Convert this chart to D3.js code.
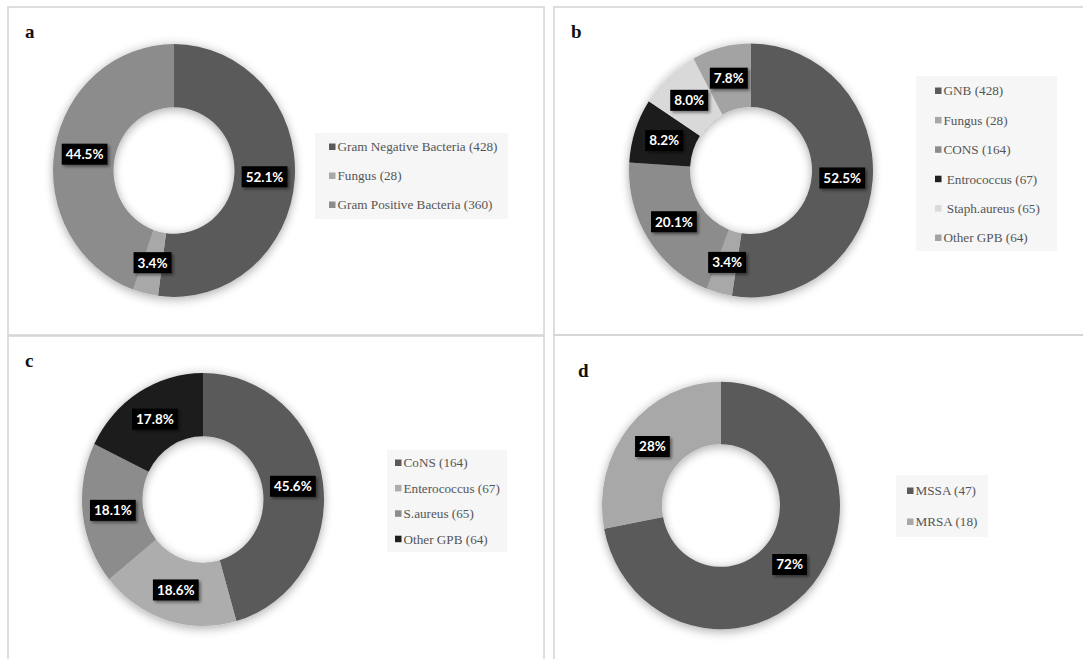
<!DOCTYPE html>
<html>
<head>
<meta charset="utf-8">
<script src="https://cdn.jsdelivr.net/npm/d3@7"></script>
<style>
body { margin: 0; background: #fff; }
</style>
</head>
<body>
<svg id="chart"></svg>
<script>
// panel a
var aNames = ["Gram Negative Bacteria", "Fungus", "Gram Positive Bacteria"],
    aCounts = [428, 28, 360],
    aPct = [52.1, 3.4, 44.5],
    aColors = ["#5a5a5a", "#a8a8a8", "#8c8c8c"];

// panel b
var bNames = ["GNB", "Fungus", "CONS", " Entrococcus", " Staph.aureus", "Other GPB"],
    bCounts = [428, 28, 164, 67, 65, 64],
    bPct = [52.5, 3.4, 20.1, 8.2, 8.0, 7.8],
    bColors = ["#5a5a5a", "#a8a8a8", "#8c8c8c", "#1f1f1f", "#d9d9d9", "#a3a3a3"];

// panel c
var cNames = ["CoNS", "Enterococcus", "S.aureus", "Other GPB"],
    cCounts = [164, 67, 65, 64],
    cPct = [45.6, 18.6, 18.1, 17.8],
    cColors = ["#5a5a5a", "#adadad", "#8c8c8c", "#1f1f1f"];

// panel d
var dNames = ["MSSA", "MRSA"],
    dCounts = [47, 18],
    dPct = [72, 28],
    dColors = ["#5a5a5a", "#a8a8a8"];

var width = 1083, height = 659;
var serif = "'Liberation Serif', 'Times New Roman', Times, serif";

var svg = d3.select("#chart")
    .attr("width", width)
    .attr("height", height);

var defs = svg.append("defs");

var f1 = defs.append("filter").attr("id", "ringShadow")
    .attr("x", "-20%").attr("y", "-20%").attr("width", "140%").attr("height", "140%");
f1.append("feGaussianBlur").attr("in", "SourceAlpha").attr("stdDeviation", 5).attr("result", "b");
f1.append("feOffset").attr("in", "b").attr("dy", 2).attr("result", "o");
f1.append("feComponentTransfer").attr("in", "o").attr("result", "s")
  .append("feFuncA").attr("type", "linear").attr("slope", 0.35);
var m1 = f1.append("feMerge");
m1.append("feMergeNode").attr("in", "s");
m1.append("feMergeNode").attr("in", "SourceGraphic");

var f2 = defs.append("filter").attr("id", "boxShadow")
    .attr("x", "-30%").attr("y", "-30%").attr("width", "160%").attr("height", "160%");
f2.append("feGaussianBlur").attr("in", "SourceAlpha").attr("stdDeviation", 1.5).attr("result", "b");
f2.append("feOffset").attr("in", "b").attr("dx", 2).attr("dy", 2).attr("result", "o");
f2.append("feComponentTransfer").attr("in", "o").attr("result", "s")
  .append("feFuncA").attr("type", "linear").attr("slope", 0.45);
var m2 = f2.append("feMerge");
m2.append("feMergeNode").attr("in", "s");
m2.append("feMergeNode").attr("in", "SourceGraphic");

var panels = [
    {letter: "a", names: aNames, counts: aCounts, pct: aPct, colors: aColors, fmt: d3.format(".1f"),
     frame: [8, 7, 536, 328], lx: 25, ly: 38,
     cx: 174, cy: 170.5, r: 121, ri: 60.5, sy: 1.045,
     box: [315, 133, 193, 86], legX: 329, legY: 147, step: 29},
    {letter: "b", names: bNames, counts: bCounts, pct: bPct, colors: bColors, fmt: d3.format(".1f"),
     frame: [554, 7, 540, 328], lx: 571, ly: 38,
     cx: 751, cy: 170.5, r: 122, ri: 61, sy: 1.04,
     box: [916, 76, 141, 175], legX: 935, legY: 91, step: 29.4},
    {letter: "c", names: cNames, counts: cCounts, pct: cPct, colors: cColors, fmt: d3.format(".1f"),
     frame: [8, 336, 536, 330], lx: 25, ly: 367,
     cx: 203, cy: 499.5, r: 121, ri: 60.5, sy: 1.045,
     box: [387, 450, 120, 102], legX: 395, legY: 463, step: 25.4},
    {letter: "d", names: dNames, counts: dCounts, pct: dPct, colors: dColors, fmt: d3.format(".0f"),
     frame: [554, 335, 540, 330], lx: 578, ly: 377,
     cx: 721, cy: 505.5, r: 119, ri: 59, sy: 1.04,
     box: [896, 475, 92, 62], legX: 907, legY: 491, step: 31}
];

var pie = d3.pie().sort(null).value(function(d) { return d; });

panels.forEach(function(p) {
    var g = svg.append("g");

    g.append("rect")
        .attr("x", p.frame[0]).attr("y", p.frame[1])
        .attr("width", p.frame[2]).attr("height", p.frame[3])
        .attr("fill", "none")
        .attr("stroke", "#d4d4d4")
        .attr("stroke-width", 1.5);

    g.append("text")
        .attr("x", p.lx).attr("y", p.ly)
        .style("font-family", serif)
        .style("font-weight", "bold")
        .style("font-size", "19px")
        .style("fill", "#111")
        .text(p.letter);

    var arc = d3.arc().innerRadius(p.ri).outerRadius(p.r);
    var arcs = pie(p.pct);

    // ring
    g.append("g")
        .attr("transform", "translate(" + p.cx + "," + p.cy + ") scale(1," + p.sy + ")")
        .attr("filter", "url(#ringShadow)")
      .selectAll("path")
        .data(arcs)
      .enter().append("path")
        .attr("d", arc)
        .attr("fill", function(d, i) { return p.colors[i]; });

    // data labels
    var lab = g.append("g")
      .selectAll("g")
        .data(arcs)
      .enter().append("g")
        .attr("transform", function(d) {
            var c = arc.centroid(d);
            return "translate(" + (p.cx + c[0]) + "," + (p.cy + c[1] * p.sy) + ")";
        });

    lab.append("rect").attr("fill", "#000").attr("filter", "url(#boxShadow)");
    lab.append("text")
        .attr("text-anchor", "middle")
        .attr("dy", "0.36em")
        .style("font-family", "Lato, 'Open Sans', sans-serif")
        .style("font-weight", "bold")
        .style("font-size", "13.5px")
        .style("fill", "#fff")
        .text(function(d, i) { return p.fmt(p.pct[i]) + "%"; });
    lab.each(function() {
        var t = d3.select(this).select("text").node().getBBox();
        d3.select(this).select("rect")
            .attr("x", -t.width / 2 - 4)
            .attr("y", -10.5)
            .attr("width", t.width + 8)
            .attr("height", 21);
    });

    // legend
    var leg = g.append("g");
    leg.append("rect")
        .attr("x", p.box[0]).attr("y", p.box[1])
        .attr("width", p.box[2]).attr("height", p.box[3])
        .attr("fill", "#f6f6f6");

    var item = leg.selectAll("g.item")
        .data(p.names)
      .enter().append("g")
        .attr("class", "item")
        .attr("transform", function(d, i) { return "translate(" + p.legX + "," + (p.legY + i * p.step) + ")"; });

    item.append("rect")
        .attr("x", 0).attr("y", -3.5)
        .attr("width", 6.5).attr("height", 6.5)
        .attr("fill", function(d, i) { return p.colors[i]; });

    item.append("text")
        .attr("x", 8.5)
        .attr("dy", "0.33em")
        .attr("xml:space", "preserve")
        .style("font-family", serif)
        .style("font-size", "13.2px")
        .style("fill", "#555")
        .text(function(d, i) { return d + " (" + p.counts[i] + ")"; });
});
</script>
</body>
</html>
